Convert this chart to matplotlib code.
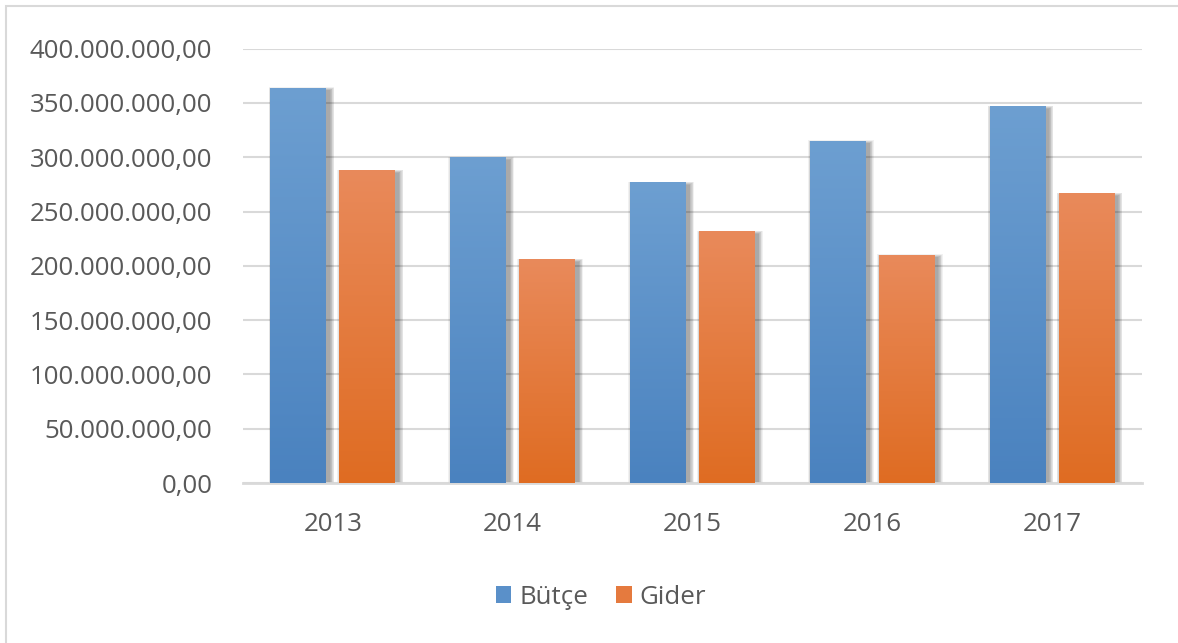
import numpy as np
import matplotlib
matplotlib.use('Agg')
import matplotlib.pyplot as plt
from matplotlib.patches import Rectangle, Patch
from matplotlib.ticker import FuncFormatter
from matplotlib.colors import LinearSegmentedColormap

years = ['2013', '2014', '2015', '2016', '2017']
butce = [364e6, 300e6, 277e6, 315e6, 347e6]
gider = [288e6, 206e6, 232e6, 210e6, 267e6]

plt.rcParams['font.family'] = ['Open Sans', 'DejaVu Sans']
txt = '#595959'
fs = 18.6

fig = plt.figure(figsize=(11.78, 6.43), dpi=100)
ax = fig.add_axes([243/1178, 1-483/643, 899/1178, 434.4/643])

# outer chart border (only left and top visible in the crop)
fig.patches.append(Rectangle((6/1178, -0.1), 1.2, 1-6/643+0.1, transform=fig.transFigure,
                             fill=False, edgecolor='#d9d9d9', linewidth=1.5, zorder=0))

blue_cm = LinearSegmentedColormap.from_list('b', ['#4a82bf', '#6d9fd1'])
orange_cm = LinearSegmentedColormap.from_list('o', ['#df6c22', '#e98a5b'])

x = np.arange(len(years))
w = 56/180
gap = 13/180
px = 1/180           # one pixel in x data units
py = 400e6/434.4     # one pixel in y data units

def bar(xc, h, cm):
    x0 = xc - w/2
    # soft shadow, shifted to the right
    for k in range(7, 0, -1):
        sh = Rectangle((x0 + 3*px - k*px*0.7, 0), w + 2*k*px*0.7, h + k*py*0.5 - 3*py,
                       facecolor='black', edgecolor='none', alpha=0.055, zorder=2)
        ax.add_patch(sh)
    r = Rectangle((x0, 0), w, h, facecolor='none', edgecolor='none', zorder=3)
    ax.add_patch(r)
    grad = np.linspace(0, 1, 256).reshape(-1, 1)
    im = ax.imshow(grad, cmap=cm, extent=[x0, x0 + w, 0, h], origin='lower',
                   aspect='auto', zorder=3, interpolation='bicubic')
    im.set_clip_path(r)

for i in range(len(years)):
    bar(x[i] - (w + gap)/2, butce[i], blue_cm)
    bar(x[i] + (w + gap)/2, gider[i], orange_cm)

ax.set_xlim(-0.5, len(years) - 0.5)
ax.set_ylim(0, 400e6)
ax.set_yticks(np.arange(0, 400e6 + 1, 50e6))
ax.yaxis.set_major_formatter(FuncFormatter(
    lambda v, p: '{:,.2f}'.format(v).replace(',', 'X').replace('.', ',').replace('X', '.')))
ax.set_xticks(x)
ax.set_xticklabels(years)
ax.grid(axis='y', color='#d9d9d9', linewidth=1.5, zorder=1)
ax.set_axisbelow(True)
for s in ['top', 'right', 'left']:
    ax.spines[s].set_visible(False)
ax.spines['bottom'].set_color('#d9d9d9')
ax.spines['bottom'].set_linewidth(2)
ax.tick_params(axis='both', length=0, labelsize=fs, colors=txt)
ax.tick_params(axis='y', pad=22)
ax.tick_params(axis='x', pad=21)

handles = [Patch(facecolor='#5a90c9', edgecolor='none', label='Bütçe'),
           Patch(facecolor='#e57a3e', edgecolor='none', label='Gider')]
fig.legend(handles=handles, loc='center', bbox_to_anchor=(601/1178, 1-597/643), ncol=2,
           frameon=False, fontsize=fs, labelcolor=txt, handlelength=0.6, handleheight=0.6,
           handletextpad=0.3, columnspacing=1.1)

fig.savefig('out.png', dpi=100)
